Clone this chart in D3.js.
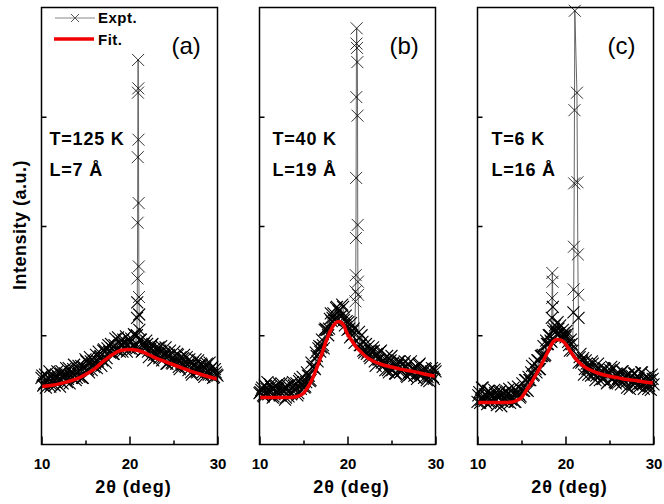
<!DOCTYPE html>
<html lang="en">
<head>
  <meta charset="UTF-8">
  <script src="https://d3js.org/d3.v7.min.js" charset="utf-8"></script>
  <title>XRD fits</title>
  <style>
    body { margin: 0; background: #fff; }
    text { font-family: "Liberation Sans", Arial, sans-serif; }
  </style>
</head>
<body>
  <script type="text/javascript">

    const w = 664;
    const h = 504;

    const xTicks = [10, 20, 30];
    const xMinor = [15, 25];
    const yTicks = [1, 2, 3];

    // scan grids, 2theta in 0.2 deg steps (two interleaved passes)
    const scanX = d3.range(0, 101).map(function (i) { return 10 + i * 0.2; });
    const scanX2 = d3.range(0, 100).map(function (i) { return 10.1 + i * 0.2; });

    // measured intensity (a.u.) on scanX
    const exptA = [.61, .54, .64, .58, .61, .53, .64, .60, .57, .67,
      .59, .65, .56, .63, .70, .60, .56, .66, .69, .64,
      .61, .72, .68, .61, .71, .78, .68, .66, .76, .73,
      .71, .82, .76, .80, .72, .86, .85, .79, .91, .84,
      .88, .83, .97, .86, .94, .91, .85, .93, .99, .91,
      .88, .97, .90, 1.00, .88, .92, .96, .85, .92, .88,
      .92, .80, .88, .92, .82, .84, .88, .79, .90, .80,
      .84, .74, .81, .86, .75, .80, .77, .83, .71, .80,
      .73, .82, .71, .73, .78, .66, .75, .72, .67, .77,
      .69, .73, .64, .70, .74, .64, .69, .71, .62, .66, .63];
    const exptB = [.47, .50, .45, .54, .51, .46, .55, .51, .44, .53,
      .48, .56, .45, .50, .52, .43, .54, .49, .46, .57,
      .50, .56, .47, .60, .54, .57, .53, .66, .63, .59,
      .71, .70, .84, .76, .90, .89, .91, 1.05, 1.05, 1.00,
      1.15, 1.13, 1.20, 1.14, 1.26, 1.22, 1.17, 1.28, 1.14, 1.18,
      1.05, 1.06, 1.11, 1.04, .93, .97, .99, .91, 1.00, .86,
      .87, .83, .90, .79, .85, .86, .72, .82, .78, .86,
      .71, .74, .77, .68, .70, .81, .75, .65, .72, .76,
      .66, .69, .74, .71, .62, .66, .76, .69, .63, .71,
      .65, .74, .63, .66, .70, .59, .67, .63, .70, .60, .67];
    const exptC = [.39, .48, .41, .52, .40, .44, .49, .38, .46, .42,
      .47, .36, .45, .49, .40, .43, .48, .39, .51, .41,
      .47, .39, .46, .53, .43, .50, .49, .59, .50, .62,
      .59, .72, .64, .69, .77, .69, .81, .82, .81, .95,
      .92, 1.00, .94, 1.04, 1.09, 1.01, 1.06, 1.09, .99, 1.02,
      .98, 1.01, .91, .96, .86, .87, .77, .86, .80, .75,
      .79, .69, .74, .64, .69, .76, .64, .59, .68, .70,
      .64, .60, .70, .64, .57, .66, .71, .60, .57, .65,
      .61, .58, .67, .59, .62, .52, .64, .62, .55, .65,
      .57, .59, .53, .66, .55, .61, .57, .51, .59, .64, .55];

    // measured intensity (a.u.) on scanX2
    const exptA2 = [.63, .56, .52, .62, .67, .55, .60, .54, .64, .62,
      .53, .67, .61, .65, .57, .70, .63, .61, .73, .59,
      .67, .62, .72, .61, .70, .76, .69, .80, .68, .77,
      .74, .70, .85, .81, .77, .87, .75, .88, .85, .92,
      .83, .91, .87, .98, .85, .92, .96, .89, .85, .96,
      .94, .87, 1.01, .90, .94, .85, .96, .86, .90, .95,
      .85, .87, .91, .77, .88, .82, .89, .86, .77, .82,
      .89, .74, .82, .78, .74, .85, .74, .82, .69, .75,
      .79, .72, .80, .68, .75, .64, .72, .78, .66, .72,
      .74, .66, .62, .72, .67, .75, .64, .61, .69, .64];
    const exptB2 = [.48, .52, .44, .47, .57, .49, .53, .43, .46, .54,
      .51, .45, .56, .50, .41, .52, .44, .55, .47, .54,
      .52, .45, .58, .51, .62, .52, .57, .63, .58, .75,
      .71, .69, .81, .88, .85, .96, .88, 1.06, 1.05, 1.06,
      1.20, 1.16, 1.14, 1.25, 1.14, 1.23, 1.18, 1.26, 1.09, 1.13,
      1.12, .98, 1.00, 1.06, .99, .90, 1.03, .91, .94, .84,
      .92, .85, .81, .85, .89, .76, .83, .78, .85, .75,
      .77, .68, .81, .66, .77, .68, .72, .65, .73, .76,
      .67, .69, .76, .63, .74, .64, .66, .69, .70, .60,
      .73, .65, .68, .61, .69, .62, .58, .67, .62, .69];
    const exptC2 = [.45, .38, .52, .42, .46, .37, .49, .39, .44, .50,
      .40, .43, .48, .35, .47, .41, .49, .46, .38, .44,
      .52, .39, .48, .46, .44, .56, .49, .59, .49, .59,
      .66, .63, .74, .66, .77, .69, .81, .90, .82, .92,
      1.00, .95, .95, 1.06, 1.03, 1.12, 1.02, .98, 1.05, 1.00,
      1.04, .94, .86, .92, .94, .80, .83, .75, .83, .77,
      .64, .77, .69, .72, .63, .74, .67, .63, .74, .59,
      .66, .60, .69, .56, .64, .68, .60, .70, .56, .64,
      .60, .55, .67, .62, .57, .64, .51, .63, .59, .65,
      .54, .61, .56, .66, .51, .58, .62, .54, .50, .60];

    // sharp Bragg peak near 21 deg, [2theta, intensity]
    const spikeA = [[20.84, 1.00], [20.86, 1.16], [20.88, 1.30], [20.90, 1.52], [20.92, 2.03],
      [20.94, 2.63], [20.96, 3.22], [20.98, 3.52], [21.00, 3.26], [21.02, 2.79],
      [21.04, 2.21], [21.06, 1.63], [21.08, 1.35], [21.10, 1.19], [21.12, 1.05]];
    const spikeB = [[20.90, 1.31], [20.92, 1.40], [20.94, 1.55], [20.96, 1.89], [20.98, 2.44],
      [21.00, 3.18], [21.02, 3.67], [21.04, 3.81], [21.08, 3.63], [21.12, 3.50],
      [21.14, 3.01], [21.16, 2.01], [21.18, 1.49], [21.20, 1.37]];
    const spikeC = [[20.90, 1.21], [20.93, 1.42], [20.96, 1.81], [20.99, 2.39], [21.02, 3.06],
      [21.06, 3.97], [21.30, 3.22], [21.36, 2.40], [21.40, 1.74], [21.44, 1.37], [21.48, 1.16]];
    const shoulderC = [[18.44, 1.16], [18.47, 1.34], [18.50, 1.57], [18.53, 1.49], [18.56, 1.26]];

    // fitted curves
    const fitAX = [10, 11, 12, 13, 14, 15, 16, 17, 18, 19, 20, 21, 22, 23, 24, 25, 26, 27, 28, 29, 30];
    const fitAY = [.53, .54, .555, .575, .60, .64, .69, .76, .82, .86, .87, .86, .83, .79, .76, .73, .70, .67, .645, .62, .60];
    const fitBX = [10, 11, 12, 13, 14, 14.5, 15, 15.5, 16, 16.5, 17, 17.5, 18, 18.5, 19, 19.5, 20, 20.5, 21, 21.5, 22, 23, 24, 25, 26, 27, 28, 29, 30];
    const fitBY = [.43, .43, .43, .43, .435, .445, .47, .525, .60, .70, .81, .93, 1.03, 1.10, 1.125, 1.10, 1.01, .95, .89, .85, .81, .76, .73, .71, .69, .675, .66, .64, .625];
    const fitCX = fitBX;
    const fitCY = [.385, .385, .385, .385, .39, .405, .43, .49, .55, .62, .69, .77, .85, .93, .96, .955, .92, .86, .80, .755, .72, .675, .645, .625, .61, .595, .585, .573, .563];

    const labels = ["(a)", "(b)", "(c)"];
    const tempText = ["T=125 K", "T=40 K", "T=6 K"];
    const sizeText = ["L=7 \u00C5", "L=19 \u00C5", "L=16 \u00C5"];

    // both passes together, narrow peaks replace the grid points they cover
    function mergePeaks(base, base2, peaks) {
      var pts = scanX.map(function (x, i) { return [x, base[i]]; })
        .concat(scanX2.map(function (x, i) { return [x, base2[i]]; }));
      peaks.forEach(function (pk) {
        var lo = d3.min(pk, function (d) { return d[0]; }) - 0.01;
        var hi = d3.max(pk, function (d) { return d[0]; }) + 0.01;
        pts = pts.filter(function (d) { return d[0] < lo || d[0] > hi; }).concat(pk);
      });
      return pts.sort(function (a, b) { return a[0] - b[0]; });
    }

    const panels = [
      { left: 41.5, data: mergePeaks(exptA, exptA2, [spikeA]), fx: fitAX, fy: fitAY, tx: 8 },
      { left: 259.5, data: mergePeaks(exptB, exptB2, [spikeB]), fx: fitBX, fy: fitBY, tx: 13 },
      { left: 477.5, data: mergePeaks(exptC, exptC2, [spikeC, shoulderC]), fx: fitCX, fy: fitCY, tx: 14 }
    ];

    const pw = 176, plotTop = 7.5, plotBottom = 444.5;

    var svg = d3.select("body").append("svg")
      .attr("width", w)
      .attr("height", h);

    var y = d3.scaleLinear().domain([0, 4]).range([plotBottom, plotTop]);
    var cross = "M-6,-6L6,6M-6,6L6,-6";

    panels.forEach(function (p, k) {
      var x = d3.scaleLinear().domain([10, 30]).range([0, pw]);
      var g = svg.append("g").attr("transform", "translate(" + p.left + ",0)");

      // experimental line + crosses
      var line = d3.line()
        .x(function (d) { return x(d[0]); })
        .y(function (d) { return y(d[1]); });
      g.append("path")
        .datum(p.data)
        .attr("d", line)
        .attr("fill", "none")
        .attr("stroke", "#555")
        .attr("stroke-width", 0.9);
      g.selectAll("path.pt")
        .data(p.data)
        .enter()
        .append("path")
        .attr("class", "pt")
        .attr("d", cross)
        .attr("transform", function (d) { return "translate(" + x(d[0]) + "," + y(d[1]) + ")"; })
        .attr("stroke", "#000")
        .attr("stroke-width", function (d) { return d[1] > 1.3 ? 0.8 : 1.1; })
        .attr("fill", "none");

      // fit
      var fitLine = d3.line()
        .x(function (d) { return x(d[0]); })
        .y(function (d) { return y(d[1]); })
        .curve(d3.curveMonotoneX);
      g.append("path")
        .datum(p.fx.map(function (v, i) { return [v, p.fy[i]]; }))
        .attr("d", fitLine)
        .attr("fill", "none")
        .attr("stroke", "#f00000")
        .attr("stroke-width", 3.5);

      // frame
      g.append("rect")
        .attr("x", 0).attr("y", plotTop)
        .attr("width", pw).attr("height", plotBottom - plotTop)
        .attr("fill", "none")
        .attr("stroke", "#000")
        .attr("stroke-width", 1.5);

      // inner ticks
      g.append("g")
        .attr("transform", "translate(0," + plotBottom + ")")
        .call(d3.axisBottom(x).tickValues(xTicks).tickSizeInner(-8).tickSizeOuter(0).tickFormat(d3.format("d")))
        .call(function (a) {
          a.select(".domain").remove();
          a.selectAll("line").attr("stroke-width", 1.5);
          a.selectAll("text")
            .attr("y", 14)
            .attr("font-size", "15px")
            .attr("font-weight", "bold")
            .attr("font-family", "Liberation Sans, Arial, sans-serif")
            .attr("fill", "#000");
        });
      g.append("g")
        .attr("transform", "translate(0," + plotBottom + ")")
        .call(d3.axisBottom(x).tickValues(xMinor).tickSize(-4).tickFormat(""))
        .call(function (a) {
          a.select(".domain").remove();
          a.selectAll("line").attr("stroke-width", 1.5);
        });
      g.append("g")
        .call(d3.axisLeft(y).tickValues(yTicks).tickSize(-5).tickFormat(""))
        .call(function (a) {
          a.select(".domain").remove();
          a.selectAll("line").attr("stroke-width", 1.5);
        });

      // x title
      g.append("text")
        .attr("x", pw / 2 + 4)
        .attr("y", 493)
        .attr("text-anchor", "middle")
        .attr("font-size", "18px")
        .attr("font-weight", "bold")
        .attr("letter-spacing", "1px")
        .text("2\u03B8 (deg)");

      // panel letter and annotations
      g.append("text")
        .attr("x", pw - 46)
        .attr("y", 54)
        .attr("font-family", "Open Sans, sans-serif")
        .attr("font-size", "24px")
        .text(labels[k]);
      g.append("text")
        .attr("x", p.tx)
        .attr("y", 145)
        .attr("font-size", "18px")
        .attr("font-weight", "bold")
        .attr("letter-spacing", "0.8px")
        .text(tempText[k]);
      g.append("text")
        .attr("x", p.tx)
        .attr("y", 176)
        .attr("font-size", "18px")
        .attr("font-weight", "bold")
        .attr("letter-spacing", "0.8px")
        .text(sizeText[k]);
    });

    // y title
    svg.append("text")
      .attr("transform", "translate(26,225) rotate(-90)")
      .attr("text-anchor", "middle")
      .attr("font-size", "18px")
      .attr("font-weight", "bold")
      .attr("letter-spacing", "0.5px")
      .text("Intensity (a.u.)");

    // legend
    var lg = svg.append("g");
    lg.append("line")
      .attr("x1", 55).attr("x2", 95).attr("y1", 18).attr("y2", 18)
      .attr("stroke", "#888").attr("stroke-width", 1.2);
    lg.append("path")
      .attr("d", "M-4,-4L4,4M-4,4L4,-4")
      .attr("transform", "translate(75,18)")
      .attr("stroke", "#555").attr("fill", "none");
    lg.append("text")
      .attr("x", 98).attr("y", 23)
      .attr("font-size", "15px").attr("font-weight", "bold")
      .attr("letter-spacing", "0.5px")
      .text("Expt.");
    lg.append("line")
      .attr("x1", 54).attr("x2", 94).attr("y1", 39).attr("y2", 39)
      .attr("stroke", "#f00000").attr("stroke-width", 3.5);
    lg.append("text")
      .attr("x", 98).attr("y", 45)
      .attr("font-size", "15px").attr("font-weight", "bold")
      .attr("letter-spacing", "0.5px")
      .text("Fit.");

  </script>
</body>
</html>
